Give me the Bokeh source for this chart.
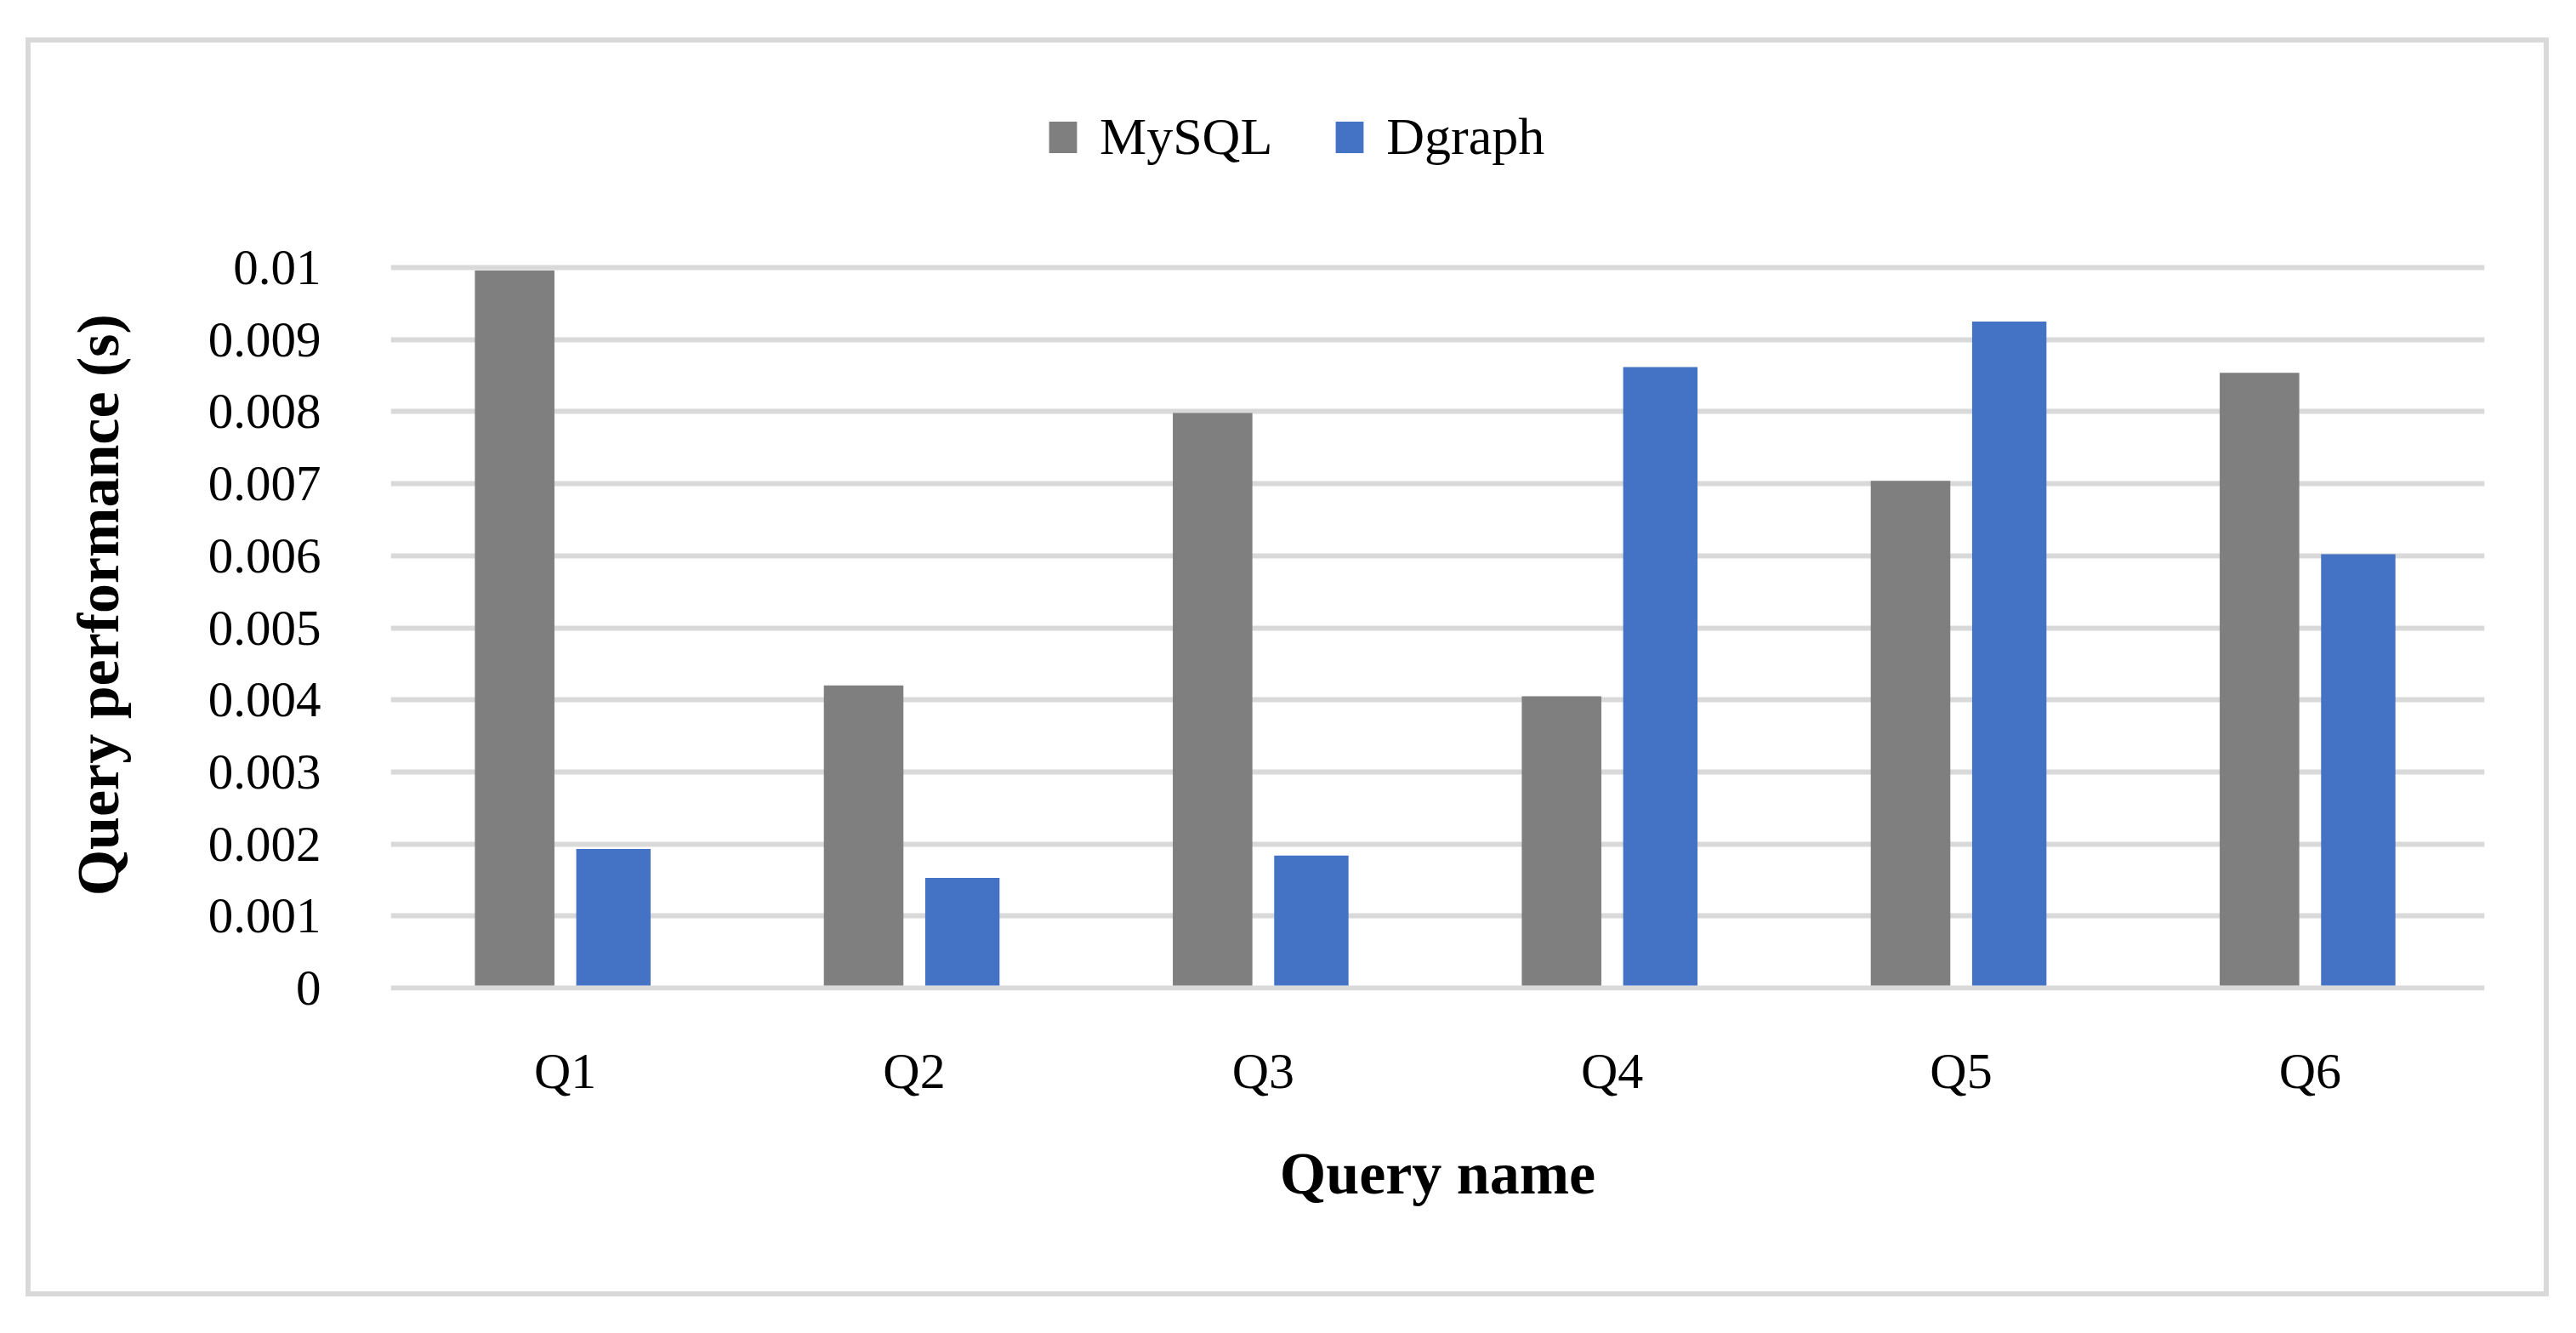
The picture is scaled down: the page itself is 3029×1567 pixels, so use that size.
from bokeh.plotting import figure
from bokeh.models import FactorRange, Range1d, FixedTicker, Legend, LegendItem, ColumnDataSource
from bokeh.transform import dodge
from bokeh.embed import file_html
from bokeh.resources import INLINE

# ---- data ----
categories = ["Q1", "Q2", "Q3", "Q4", "Q5", "Q6"]
mysql = [0.00996, 0.00420, 0.00798, 0.00405, 0.00704, 0.00854]
dgraph = [0.00193, 0.00153, 0.00184, 0.00862, 0.00925, 0.00602]
y_ticks = [0, 0.001, 0.002, 0.003, 0.004, 0.005, 0.006, 0.007, 0.008, 0.009, 0.01]
y_tick_labels = ["0", "0.001", "0.002", "0.003", "0.004", "0.005", "0.006", "0.007", "0.008", "0.009", "0.01"]
series_names = ["MySQL", "Dgraph"]
colors = ["#7F7F7F", "#4472C4"]
y_title = "Query performance (s)"
x_title = "Query name"

src = ColumnDataSource(dict(cat=categories, mysql=mysql, dgraph=dgraph))

FONT = "Liberation Serif"

# frame: 0 at page y 1161, 0.01 at page y 314 -> 847 px per 0.01
PX = 0.01 / 847.0

p = figure(
    x_range=FactorRange(factors=categories, range_padding=0),
    y_range=Range1d(-3 * PX, 1061 * PX),
    width=2967, height=1480,
    min_border_left=423, min_border_right=82, min_border_top=50, min_border_bottom=366,
    output_backend="svg", toolbar_location=None,
)
p.margin = (44, 0, 0, 30)
p.styles = {"border": "6px solid #D9D9D9"}
p.outline_line_color = None
p.background_fill_color = "white"
p.border_fill_color = "white"

r1 = p.vbar(x=dodge("cat", -0.145, range=p.x_range), top="mysql", bottom=3 * PX, width=0.228,
            source=src, fill_color=colors[0], line_color=None)
r2 = p.vbar(x=dodge("cat", 0.138, range=p.x_range), top="dgraph", bottom=3 * PX, width=0.213,
            source=src, fill_color=colors[1], line_color=None)

# grid
p.xgrid.grid_line_color = None
p.ygrid.grid_line_color = "#D9D9D9"
p.ygrid.grid_line_width = 6
p.ygrid.level = "image"

# y axis
p.yaxis.ticker = FixedTicker(ticks=y_ticks)
p.yaxis.major_label_overrides = {t: l for t, l in zip(y_ticks, y_tick_labels)}
p.yaxis.axis_line_color = None
p.yaxis.major_tick_line_color = None
p.yaxis.minor_tick_line_color = None
p.yaxis.major_label_standoff = 76
p.yaxis.major_label_text_font = FONT
p.yaxis.major_label_text_font_size = "59px"
p.yaxis.major_label_text_color = "black"
# trailing no-break spaces centre the visible title on the 0..0.01 gridline block
p.yaxis.axis_label = y_title + "\u00a0" * 9
p.yaxis.axis_label_text_font = FONT
p.yaxis.axis_label_text_font_style = "bold"
p.yaxis.axis_label_text_font_size = "70px"
p.yaxis.axis_label_text_color = "black"
p.yaxis.axis_label_standoff = 88

# x axis
p.xaxis.axis_line_color = None
p.xaxis.major_tick_line_color = None
p.xaxis.minor_tick_line_color = None
p.xaxis.major_label_standoff = 55
p.xaxis.major_label_text_font = FONT
p.xaxis.major_label_text_font_size = "60px"
p.xaxis.major_label_text_color = "black"
p.xaxis.axis_label = x_title
p.xaxis.axis_label_text_font = FONT
p.xaxis.axis_label_text_font_style = "bold"
p.xaxis.axis_label_text_font_size = "70px"
p.xaxis.axis_label_text_color = "black"
p.xaxis.axis_label_standoff = 46

legend = Legend(
    items=[LegendItem(label=series_names[0], renderers=[r1]),
           LegendItem(label=series_names[1], renderers=[r2])],
    orientation="horizontal",
    location=(770, 968),
    glyph_width=41, glyph_height=46,
    label_text_font=FONT, label_text_font_size="62px", label_text_color="black",
    label_standoff=23, spacing=70, padding=0, margin=0,
    border_line_color=None, background_fill_alpha=0,
)
p.add_layout(legend)

open("out.html", "w").write(file_html(p, INLINE))
